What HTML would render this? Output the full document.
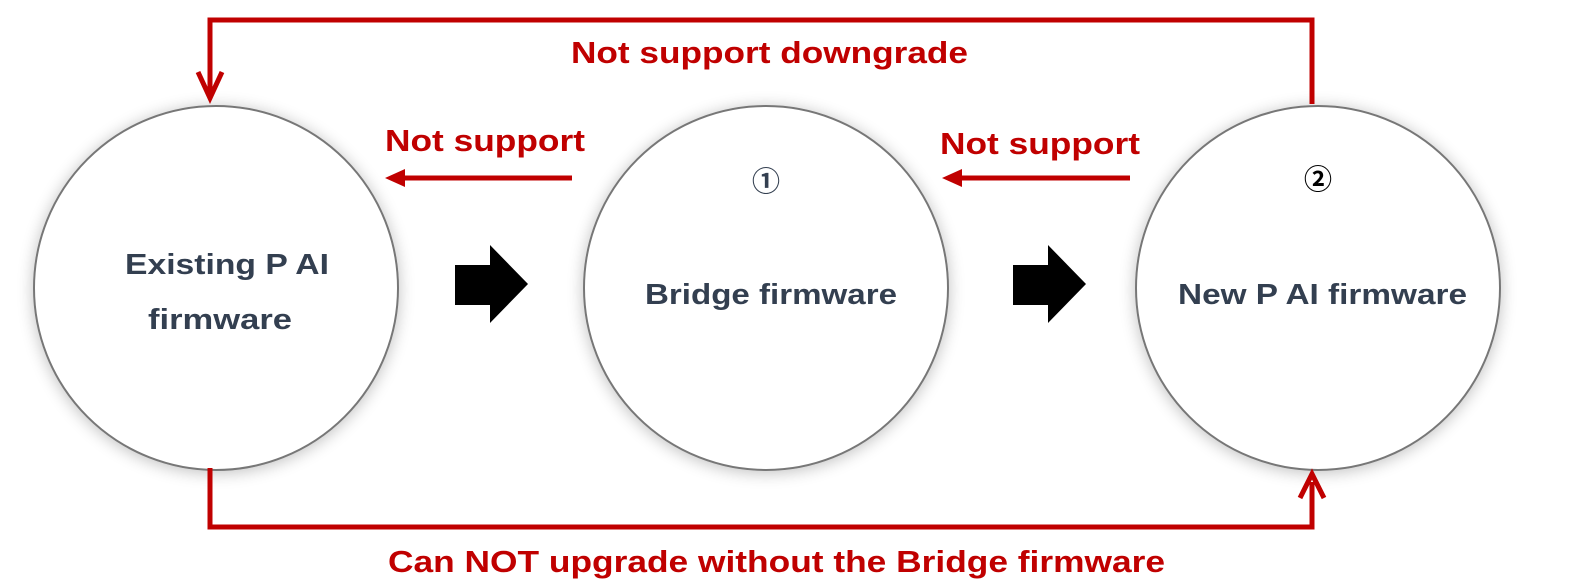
<!DOCTYPE html>
<html><head><meta charset="utf-8"><style>
html,body{margin:0;padding:0;background:#fff;width:1579px;height:585px;overflow:hidden}
svg{display:block}
text{font-family:"Liberation Sans","Noto Sans CJK JP",sans-serif;font-weight:bold}
</style></head><body>
<svg width="1579" height="585" viewBox="0 0 1579 585">
<defs>
<filter id="sh" x="-30%" y="-30%" width="160%" height="160%">
<feGaussianBlur in="SourceAlpha" stdDeviation="8"/>
<feOffset dx="0" dy="2"/>
<feComponentTransfer><feFuncA type="linear" slope="0.25"/></feComponentTransfer>
<feMerge><feMergeNode/><feMergeNode in="SourceGraphic"/></feMerge>
</filter>
</defs>
<g fill="#fff" stroke="#777" stroke-width="2" filter="url(#sh)">
<circle cx="216" cy="288" r="182"/>
<circle cx="766" cy="288" r="182"/>
<circle cx="1318" cy="288" r="182"/>
</g>
<g fill="#333f50" font-size="29" lengthAdjust="spacingAndGlyphs">
<text x="125" y="274" textLength="204" lengthAdjust="spacingAndGlyphs">Existing P AI</text>
<text x="148" y="329" textLength="144" lengthAdjust="spacingAndGlyphs">firmware</text>
<text x="645" y="304" textLength="252" lengthAdjust="spacingAndGlyphs">Bridge firmware</text>
<text x="1178" y="304" textLength="289" lengthAdjust="spacingAndGlyphs">New P AI firmware</text>
</g>
<text x="766" y="191" font-size="28" text-anchor="middle" font-weight="normal" fill="#333f50">①</text>
<text x="1318" y="189" font-size="28" text-anchor="middle" font-weight="normal" fill="#000">②</text>
<g fill="#000">
<polygon points="455,265 490,265 490,245 528,284 490,323 490,305 455,305"/>
<polygon points="1013,265 1048,265 1048,245 1086,284 1048,323 1048,305 1013,305"/>
</g>
<g fill="none" stroke="#c00000" stroke-width="5">
<polyline points="210,92 210,20 1312,20 1312,104"/>
<polyline points="210,468 210,527 1312,527 1312,482"/>
<line x1="572" y1="178" x2="400" y2="178"/>
<line x1="1130" y1="178" x2="958" y2="178"/>
<polyline points="198,72 210,98 222,72"/>
<polyline points="1300,498 1312,474 1324,498"/>
</g>
<g fill="#c00000">
<polygon points="385,178 405,169 405,187"/>
<polygon points="942,178 962,169 962,187"/>
</g>
<g fill="#c00000" font-size="31">
<text x="571" y="63" textLength="397" lengthAdjust="spacingAndGlyphs">Not support downgrade</text>
<text x="385" y="151" textLength="200" lengthAdjust="spacingAndGlyphs">Not support</text>
<text x="940" y="154" textLength="200" lengthAdjust="spacingAndGlyphs">Not support</text>
<text x="388" y="572" textLength="777" lengthAdjust="spacingAndGlyphs">Can NOT upgrade without the Bridge firmware</text>
</g>
</svg>
</body></html>
